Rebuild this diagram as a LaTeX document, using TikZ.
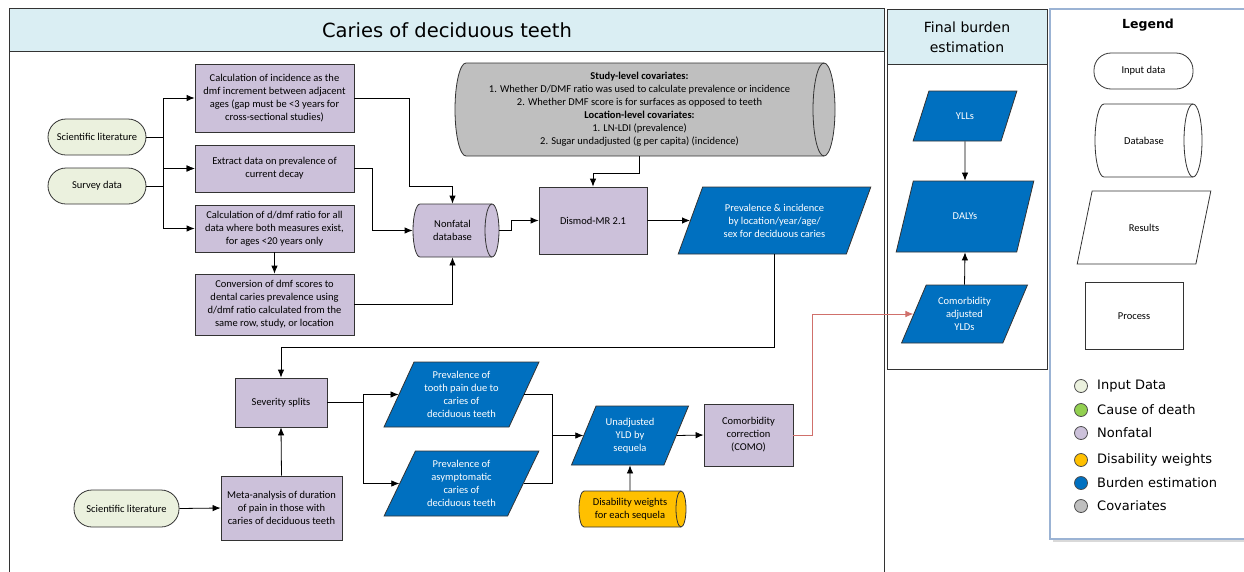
\documentclass[tikz,border=0pt]{standalone}
\usepackage{fontspec}
\setmainfont{Carlito}
\newfontfamily\headfont{DejaVu Sans}
\usetikzlibrary{shapes.geometric,arrows.meta}
\definecolor{hdrblue}{HTML}{DAEEF3}
\definecolor{nfpurple}{HTML}{CCC1DA}
\definecolor{inputgreen}{HTML}{EBF1DE}
\definecolor{burdenblue}{HTML}{0070C0}
\definecolor{covgrey}{HTML}{BFBFBF}
\definecolor{dwyellow}{HTML}{FFC000}
\definecolor{codgreen}{HTML}{92D050}
\definecolor{comored}{HTML}{D0706B}
\definecolor{legendedge}{HTML}{9BB3D4}
\tikzset{
  shapeline/.style={draw=black!80, line width=0.8pt},
  base/.style={shapeline, align=center, inner sep=1pt,
    font=\fontsize{10.5}{13}\selectfont},
  inbox/.style={base, rounded corners=18pt, fill=inputgreen},
  procbox/.style={base, rectangle, fill=nfpurple},
  dbtext/.style={base, rectangle, draw=none},
  resbox/.style={base, trapezium, trapezium left angle=63.5, trapezium right angle=116.5,
    trapezium stretches=true, fill=burdenblue, text=white},
  link/.style={draw=black, line width=0.8pt},
  arr/.style={link, -{Latex[length=8pt,width=6.5pt]}},
  dot/.style={circle, draw=black!70, line width=0.8pt, minimum size=13pt, inner sep=0pt},
  legtext/.style={anchor=west, inner sep=0pt, font=\headfont\fontsize{13}{15}\selectfont}
}
% left, top, right, bottom, cap radius, fill
\newcommand{\cylpath}[6]{%
  \filldraw[shapeline, fill=#6] ({#1+#5},{#2}) -- ({#3-#5},{#2})
    arc[start angle=-90, end angle=90, x radius=#5, y radius={(#4-#2)/2}]
    -- ({#1+#5},{#4})
    arc[start angle=90, end angle=270, x radius=#5, y radius={(#4-#2)/2}] -- cycle;
  \draw[shapeline] ({#3-#5},{#2})
    arc[start angle=270, end angle=90, x radius=#5, y radius={(#4-#2)/2}];}
\begin{document}
\begin{tikzpicture}[x=1pt,y=-1pt]
\useasboundingbox (0,0) rectangle (1244,571);
\filldraw[fill=hdrblue, shapeline] (9,8) rectangle (884,51);
\draw[shapeline] (9,575) -- (9,8) -- (884,8) -- (884,575);
\node[font=\headfont\fontsize{19.5}{22}\selectfont] (title) at (447,30) {Caries of deciduous teeth};
\filldraw[fill=hdrblue, shapeline] (887,9) rectangle (1047,64);
\draw[shapeline] (887,9) rectangle (1047,369);
\node[align=center, font=\headfont\fontsize{14}{20}\selectfont] (fbtitle) at (967,37) {Final burden\\estimation};
\fill[black!15] (1053,12) rectangle (1250,542);
\filldraw[fill=white, draw=legendedge, line width=1.2pt] (1050,9) rectangle (1250,539);
\node[font=\headfont\bfseries\fontsize{12.5}{15}\selectfont] (legtitle) at (1148,25) {Legend};

\node[inbox, minimum width=98pt, minimum height=36pt] (scilit) at (97,137) {Scientific literature};
\node[inbox, minimum width=98pt, minimum height=36pt] (survey) at (97,186) {Survey data};
\node[procbox, minimum width=159pt, minimum height=68pt] (calcinc) at (274.5,98) {Calculation of incidence as the\\dmf increment between adjacent\\ages (gap must be <3 years for\\cross-sectional studies)};
\node[procbox, minimum width=159pt, minimum height=47pt] (extract) at (274.5,168.5) {Extract data on prevalence of\\current decay};
\node[procbox, minimum width=159pt, minimum height=47pt] (ratio) at (274.5,228.5) {Calculation of d/dmf ratio for all\\data where both measures exist,\\for ages <20 years only};
\node[procbox, minimum width=159pt, minimum height=61pt] (convert) at (274.5,304.5) {Conversion of dmf scores to\\dental caries prevalence using\\d/dmf ratio calculated from the\\same row, study, or location};
\cylpath{413}{204}{499}{257}{7}{nfpurple}
\node[dbtext, minimum width=79pt, minimum height=53pt] (nonfatal) at (452.5,230.5) {Nonfatal\\database};
\cylpath{455}{63}{835}{156}{11}{covgrey}
\node[dbtext, minimum width=369pt, minimum height=93pt] (covar) at (639.5,109.5) {\textbf{Study-level covariates:}\\1. Whether D/DMF ratio was used to calculate prevalence or incidence\\2. Whether DMF score is for surfaces as opposed to teeth\\\textbf{Location-level covariates:}\\1. LN-LDI (prevalence)\\2. Sugar undadjusted (g per capita) (incidence)};
\node[procbox, minimum width=108pt, minimum height=67pt] (dismod) at (593,220.5) {Dismod-MR 2.1};
\node[resbox, minimum width=193pt, minimum height=67pt] (previnc) at (774.5,220.5) {Prevalence \& incidence\\by location/year/age/\\sex for deciduous caries};
\node[procbox, minimum width=92pt, minimum height=49pt] (severity) at (281,402.5) {Severity splits};
\node[procbox, minimum width=121pt, minimum height=64pt] (meta) at (281.5,508) {Meta-analysis of duration\\of pain in those with\\caries of deciduous teeth};
\node[inbox, minimum width=105pt, minimum height=37pt] (scilitb) at (126.5,508.5) {Scientific literature};
\node[resbox, minimum width=155pt, minimum height=65pt] (toothpain) at (461.5,394.5) {Prevalence of\\tooth pain due to\\caries of\\deciduous teeth};
\node[resbox, minimum width=155pt, minimum height=65pt] (asympt) at (461.5,483.5) {Prevalence of\\asymptomatic\\caries of\\deciduous teeth};
\node[resbox, minimum width=118pt, minimum height=59pt] (unadj) at (630,435.5) {Unadjusted\\YLD by\\sequela};
\node[procbox, minimum width=89pt, minimum height=62pt] (como) at (748.5,435) {Comorbidity\\correction\\(COMO)};
\cylpath{579}{491}{686}{527}{5}{dwyellow}
\node[dbtext, minimum width=102pt, minimum height=36pt] (dw) at (630,509) {Disability weights\\for each sequela};
\node[resbox, minimum width=104pt, minimum height=50pt] (ylls) at (965,116) {YLLs};
\node[resbox, minimum width=138pt, minimum height=71pt] (dalys) at (965,216.5) {DALYs};
\node[resbox, minimum width=127pt, minimum height=58pt] (comoyld) at (964.5,314) {Comorbidity\\adjusted\\YLDs};

\node[base, rounded corners=17pt, fill=white, minimum width=99pt, minimum height=36pt] (leginput) at (1143.5,71) {Input data};
\cylpath{1095}{104}{1202}{177}{9}{white}
\node[dbtext, minimum width=98pt, minimum height=73pt] (legdb) at (1144,140.5) {Database};
\node[resbox, fill=white, text=black, minimum width=134pt, minimum height=73pt] (legres) at (1144,227.5) {Results};
\node[procbox, fill=white, minimum width=98pt, minimum height=67pt] (legproc) at (1134,316) {Process};

\node[dot, fill=inputgreen] (dota) at (1081,386) {};
\node[dot, fill=codgreen] (dotb) at (1081,410) {};
\node[dot, fill=nfpurple] (dotc) at (1081,433) {};
\node[dot, fill=dwyellow] (dotd) at (1081,460) {};
\node[dot, fill=burdenblue] (dote) at (1081,483) {};
\node[dot, fill=covgrey] (dotf) at (1081,506) {};
\node[legtext] (laba) at (1097,386) {Input Data};
\node[legtext] (labb) at (1097,410) {Cause of death};
\node[legtext] (labc) at (1097,433) {Nonfatal};
\node[legtext] (labd) at (1097,460) {Disability weights};
\node[legtext] (labe) at (1097,483) {Burden estimation};
\node[legtext] (labf) at (1097,506) {Covariates};

\coordinate (busa) at (163,137);
\coordinate (busb) at (163,186);
\coordinate (merge) at (552,435.5);
\draw[link] (scilit.east) -- (busa);
\draw[link] (survey.east) -- (busb);
\draw[arr] (busa) |- (calcinc.west);
\draw[arr] (busa) |- (extract.west);
\draw[arr] (busb) |- (extract.west);
\draw[arr] (busb) |- (ratio.west);
\draw[arr] (calcinc.east) -| (409,186) -| (nonfatal.north);
\draw[arr] (extract.east) -- ++(18,0) |- (nonfatal.west);
\draw[arr] (ratio.south) -- (convert.north);
\draw[arr] (convert.east) -| (nonfatal.south);
\draw[arr] ([xshift=7pt]nonfatal.east) -- ++(12,0) |- (dismod.west);
\draw[arr] (covar.south) -- ++(0,17) -| (dismod.north);
\draw[arr] (dismod.east) -- (previnc.west);
\draw[arr] (previnc.south) -- ++(0,93) -| (severity.north);
\draw[arr] (meta.north) -- (severity.south);
\draw[arr] (scilitb.east) -- (meta.west);
\draw[arr] (severity.east) -- ++(36,0) |- (toothpain.west);
\draw[arr] (severity.east) -- ++(36,0) |- (asympt.west);
\draw[link] (toothpain.east) -| (merge);
\draw[link] (asympt.east) -| (merge);
\draw[arr] (merge) -- (unadj.west);
\draw[arr] (unadj.east) -- (como.west);
\draw[arr] (dw.north) -- (unadj.south);
\draw[arr, draw=comored, -{Latex[length=8pt,width=6.5pt,fill=comored]}] (como.east) -- ++(19,0) |- (comoyld.west);
\draw[arr] (ylls.south) -- (dalys.north);
\draw[arr] (comoyld.north) -- (dalys.south);
\end{tikzpicture}
\end{document}
